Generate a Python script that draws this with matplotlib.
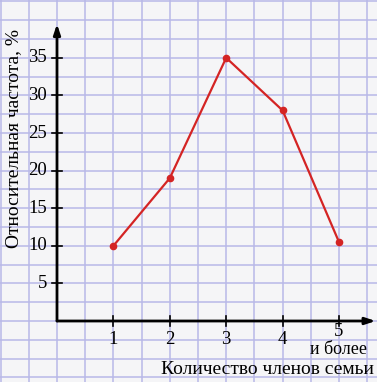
import matplotlib.pyplot as plt
import matplotlib.transforms as mtransforms
import numpy as np

plt.rcParams['font.family'] = ['Liberation Serif', 'DejaVu Serif']

# data
members = [1, 2, 3, 4, 5]
freq = [10, 19, 35, 28, 10.5]
yticks = [5, 10, 15, 20, 25, 30, 35]

fig = plt.figure(figsize=(3.77, 3.82), dpi=100)
fig.patch.set_facecolor('#f5f5f7')
ax = fig.add_axes([0, 0, 1, 1])
ax.set_facecolor('#f5f5f7')

# pixel mapping: origin at (57, 321), 56.4 px per unit in x, 7.52 px per unit in y
px_x = 56.4
px_y = 7.52
ax.set_xlim(-57 / px_x, (377 - 57) / px_x)
ax.set_ylim(-(382 - 321) / px_y, 321 / px_y)
ax.axis('off')

# squared paper
for gx in np.arange(-1.0, 6.0, 0.5):
    ax.axvline(gx, color='#b8b8e8', lw=1.1, zorder=0)
for gy in np.arange(-7.5, 45, 2.5):
    ax.axhline(gy, color='#b8b8e8', lw=1.1, zorder=0)

# axes with arrows
ax.annotate('', xy=(5.65, 0), xytext=(0, 0),
            arrowprops=dict(arrowstyle='-|>,head_length=0.6,head_width=0.2', color='black', lw=2, shrinkA=0, shrinkB=0))
ax.annotate('', xy=(0, 39.5), xytext=(0, 0),
            arrowprops=dict(arrowstyle='-|>,head_length=0.6,head_width=0.2', color='black', lw=2, shrinkA=0, shrinkB=0))

# ticks
tx = 5 / px_x
ty = 5 / px_y
for m in members:
    ax.plot([m, m], [-ty, ty], color='black', lw=1.2, zorder=3)
    if m < 5:
        ax.text(m, -19 / px_y, str(m), ha='center', va='center', fontsize=13.5)
ax.text(5, -10.5 / px_y, '5', ha='center', va='center', fontsize=13.5)
shift = mtransforms.ScaledTranslation(28 / 100, 0, fig.dpi_scale_trans)
ax.text(5, -29 / px_y, 'и более', ha='right', va='center', fontsize=13,
        transform=ax.transData + shift)
for t in yticks:
    ax.plot([-tx, tx], [t, t], color='black', lw=1.2, zorder=3)
    ax.text(-10 / px_x, t, str(t), ha='right', va='center', fontsize=13.5)

# series
ax.plot(members, freq, color='#d42424', lw=1.6, marker='o', markersize=4.5, zorder=4)

# labels
fig.text(14 / 377, 1 - 139 / 382, 'Относительная частота, %', rotation=90,
         ha='center', va='center', fontsize=14)
fig.text(374 / 377, 1 - 369 / 382, 'Количество членов семьи', ha='right', va='center', fontsize=14)

fig.savefig('out.png', dpi=100)
